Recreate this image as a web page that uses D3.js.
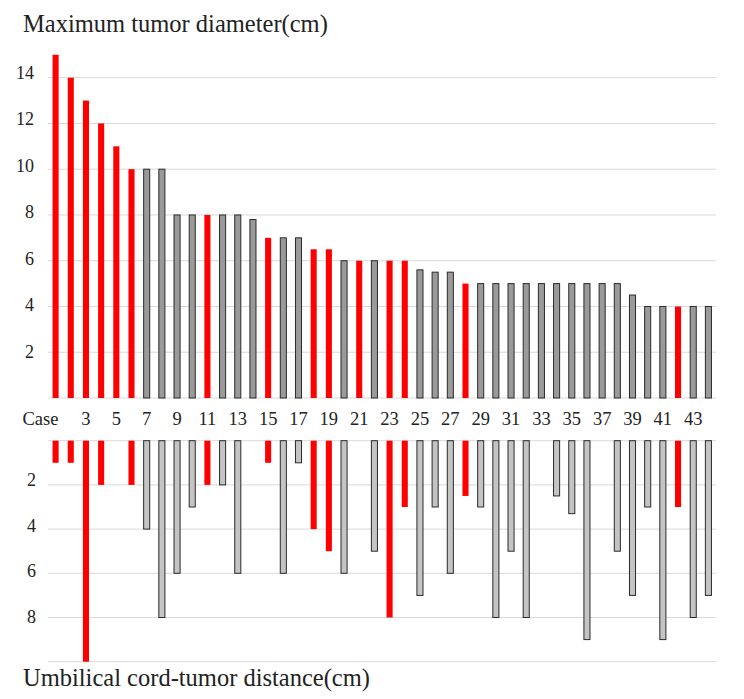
<!DOCTYPE html>
<html>
<head>
<meta charset="utf-8">
<script src="https://cdn.jsdelivr.net/npm/d3@7"></script>
<style>
  body { margin: 0; background: #fff; }
  #chart { position: relative; width: 744px; height: 699px; }
  #chart svg { position: absolute; left: 0; top: 0; }
  .lbl { position: absolute; white-space: nowrap; line-height: 1; color: #222;
         font-family: "Liberation Serif", "Times New Roman", serif; }
</style>
</head>
<body>
<div id="chart"><svg id="mySvg" width="744" height="699"></svg></div>
<script>
var svg = d3.select("#mySvg");
var chart = d3.select("#chart");

const cases = d3.range(1, 45);
// maximum tumor diameter (cm), case 1..44
const diameter = [15, 14, 13, 12, 11, 10, 10, 10, 8, 8, 8, 8, 8, 7.8, 7, 7, 7, 6.5, 6.5, 6,
    6, 6, 6, 6, 5.6, 5.5, 5.5, 5, 5, 5, 5, 5, 5, 5, 5, 5, 5, 5, 4.5, 4, 4, 4, 4, 4];
// umbilical cord-tumor distance (cm), 0 = no bar
const distance = [1, 1, 10, 2, 0, 2, 4, 8, 6, 3, 2, 2, 6, 0, 1, 6, 1, 4, 5, 6,
    0, 5, 8, 3, 7, 3, 6, 2.5, 3, 8, 5, 8, 0, 2.5, 3.3, 9, 0, 5, 7, 3, 9, 3, 8, 7];
// cases drawn in red
const redCases = [1, 2, 3, 4, 5, 6, 11, 15, 18, 19, 21, 23, 24, 28, 42];
const topTicks = [2, 4, 6, 8, 10, 12, 14];
const bottomTicks = [2, 4, 6, 8];
const bottomGrid = [0, 2, 4, 6, 8, 10];

const left = 48, right = 716;

const x = d3.scaleBand().domain(cases).range([left, right]).paddingInner(0.6).paddingOuter(0.3);
const yTop = d3.scaleLinear().domain([0, 15]).range([398, 54.8]);
const yBot = d3.scaleLinear().domain([0, 10]).range([440.7, 661.7]);
// tick labels sit slightly off the gridlines in the original
const yTopLbl = d3.scaleLinear().domain([2, 14]).range([351.7, 72.5]);
const yBotLbl = d3.scaleLinear().domain([2, 8]).range([480, 616.7]);

function isRed(c) { return redCases.indexOf(c) >= 0; }

// gridlines
svg.append("g").selectAll("line")
    .data([0].concat(topTicks))
    .join("line")
    .attr("x1", left).attr("x2", right)
    .attr("y1", d => yTop(d)).attr("y2", d => yTop(d))
    .attr("stroke", "#d9d9d9").attr("stroke-width", 1);

svg.append("g").selectAll("line")
    .data(bottomGrid)
    .join("line")
    .attr("x1", left).attr("x2", right)
    .attr("y1", d => yBot(d)).attr("y2", d => yBot(d))
    .attr("stroke", "#d9d9d9").attr("stroke-width", 1);

// top bars
svg.append("g").selectAll("rect")
    .data(cases)
    .join("rect")
    .attr("x", d => x(d))
    .attr("width", x.bandwidth())
    .attr("y", d => yTop(diameter[d - 1]))
    .attr("height", d => yTop(0) - yTop(diameter[d - 1]))
    .attr("fill", d => isRed(d) ? "#ff0000" : "#9a9a9a")
    .attr("stroke", d => isRed(d) ? "none" : "#2a2a2a")
    .attr("stroke-width", 1);

// bottom bars
svg.append("g").selectAll("rect")
    .data(cases.filter(c => distance[c - 1] > 0))
    .join("rect")
    .attr("x", d => x(d))
    .attr("width", x.bandwidth())
    .attr("y", yBot(0))
    .attr("height", d => yBot(distance[d - 1]) - yBot(0))
    .attr("fill", d => isRed(d) ? "#ff0000" : "#c4c4c4")
    .attr("stroke", d => isRed(d) ? "none" : "#2a2a2a")
    .attr("stroke-width", 1);

// html labels (serif text); y is the baseline
function addLabels(data, fx, fy, txt, size, anchor) {
    const shift = anchor == "end" ? "-100%" : anchor == "middle" ? "-50%" : "0";
    chart.selectAll(null)
        .data(data)
        .join("div")
        .attr("class", "lbl")
        .style("font-size", size + "px")
        .style("left", d => fx(d) + "px")
        .style("top", d => (fy(d) - 0.8375 * size) + "px")
        .style("transform", "translateX(" + shift + ")")
        .text(txt);
}

// y tick labels (centred on value)
addLabels(topTicks, d => 34, d => yTopLbl(d) + 0.338 * 18, d => d, 18, "end");
addLabels(bottomTicks, d => 36, d => yBotLbl(d) + 0.338 * 18, d => d, 18, "end");

// case labels
addLabels(["Case"], d => 22.5, d => 425.7, d => d, 18.5, "start");
addLabels(cases.filter(c => c % 2 == 1 && c > 1),
    d => x(d) + x.bandwidth() / 2, d => 425.7, d => d, 18.5, "middle");

// titles
addLabels(["Maximum tumor diameter(cm)"], d => 23, d => 33, d => d, 24.5, "start");
addLabels(["Umbilical cord-tumor distance(cm)"], d => 23, d => 687, d => d, 24.5, "start");
</script>
</body>
</html>
